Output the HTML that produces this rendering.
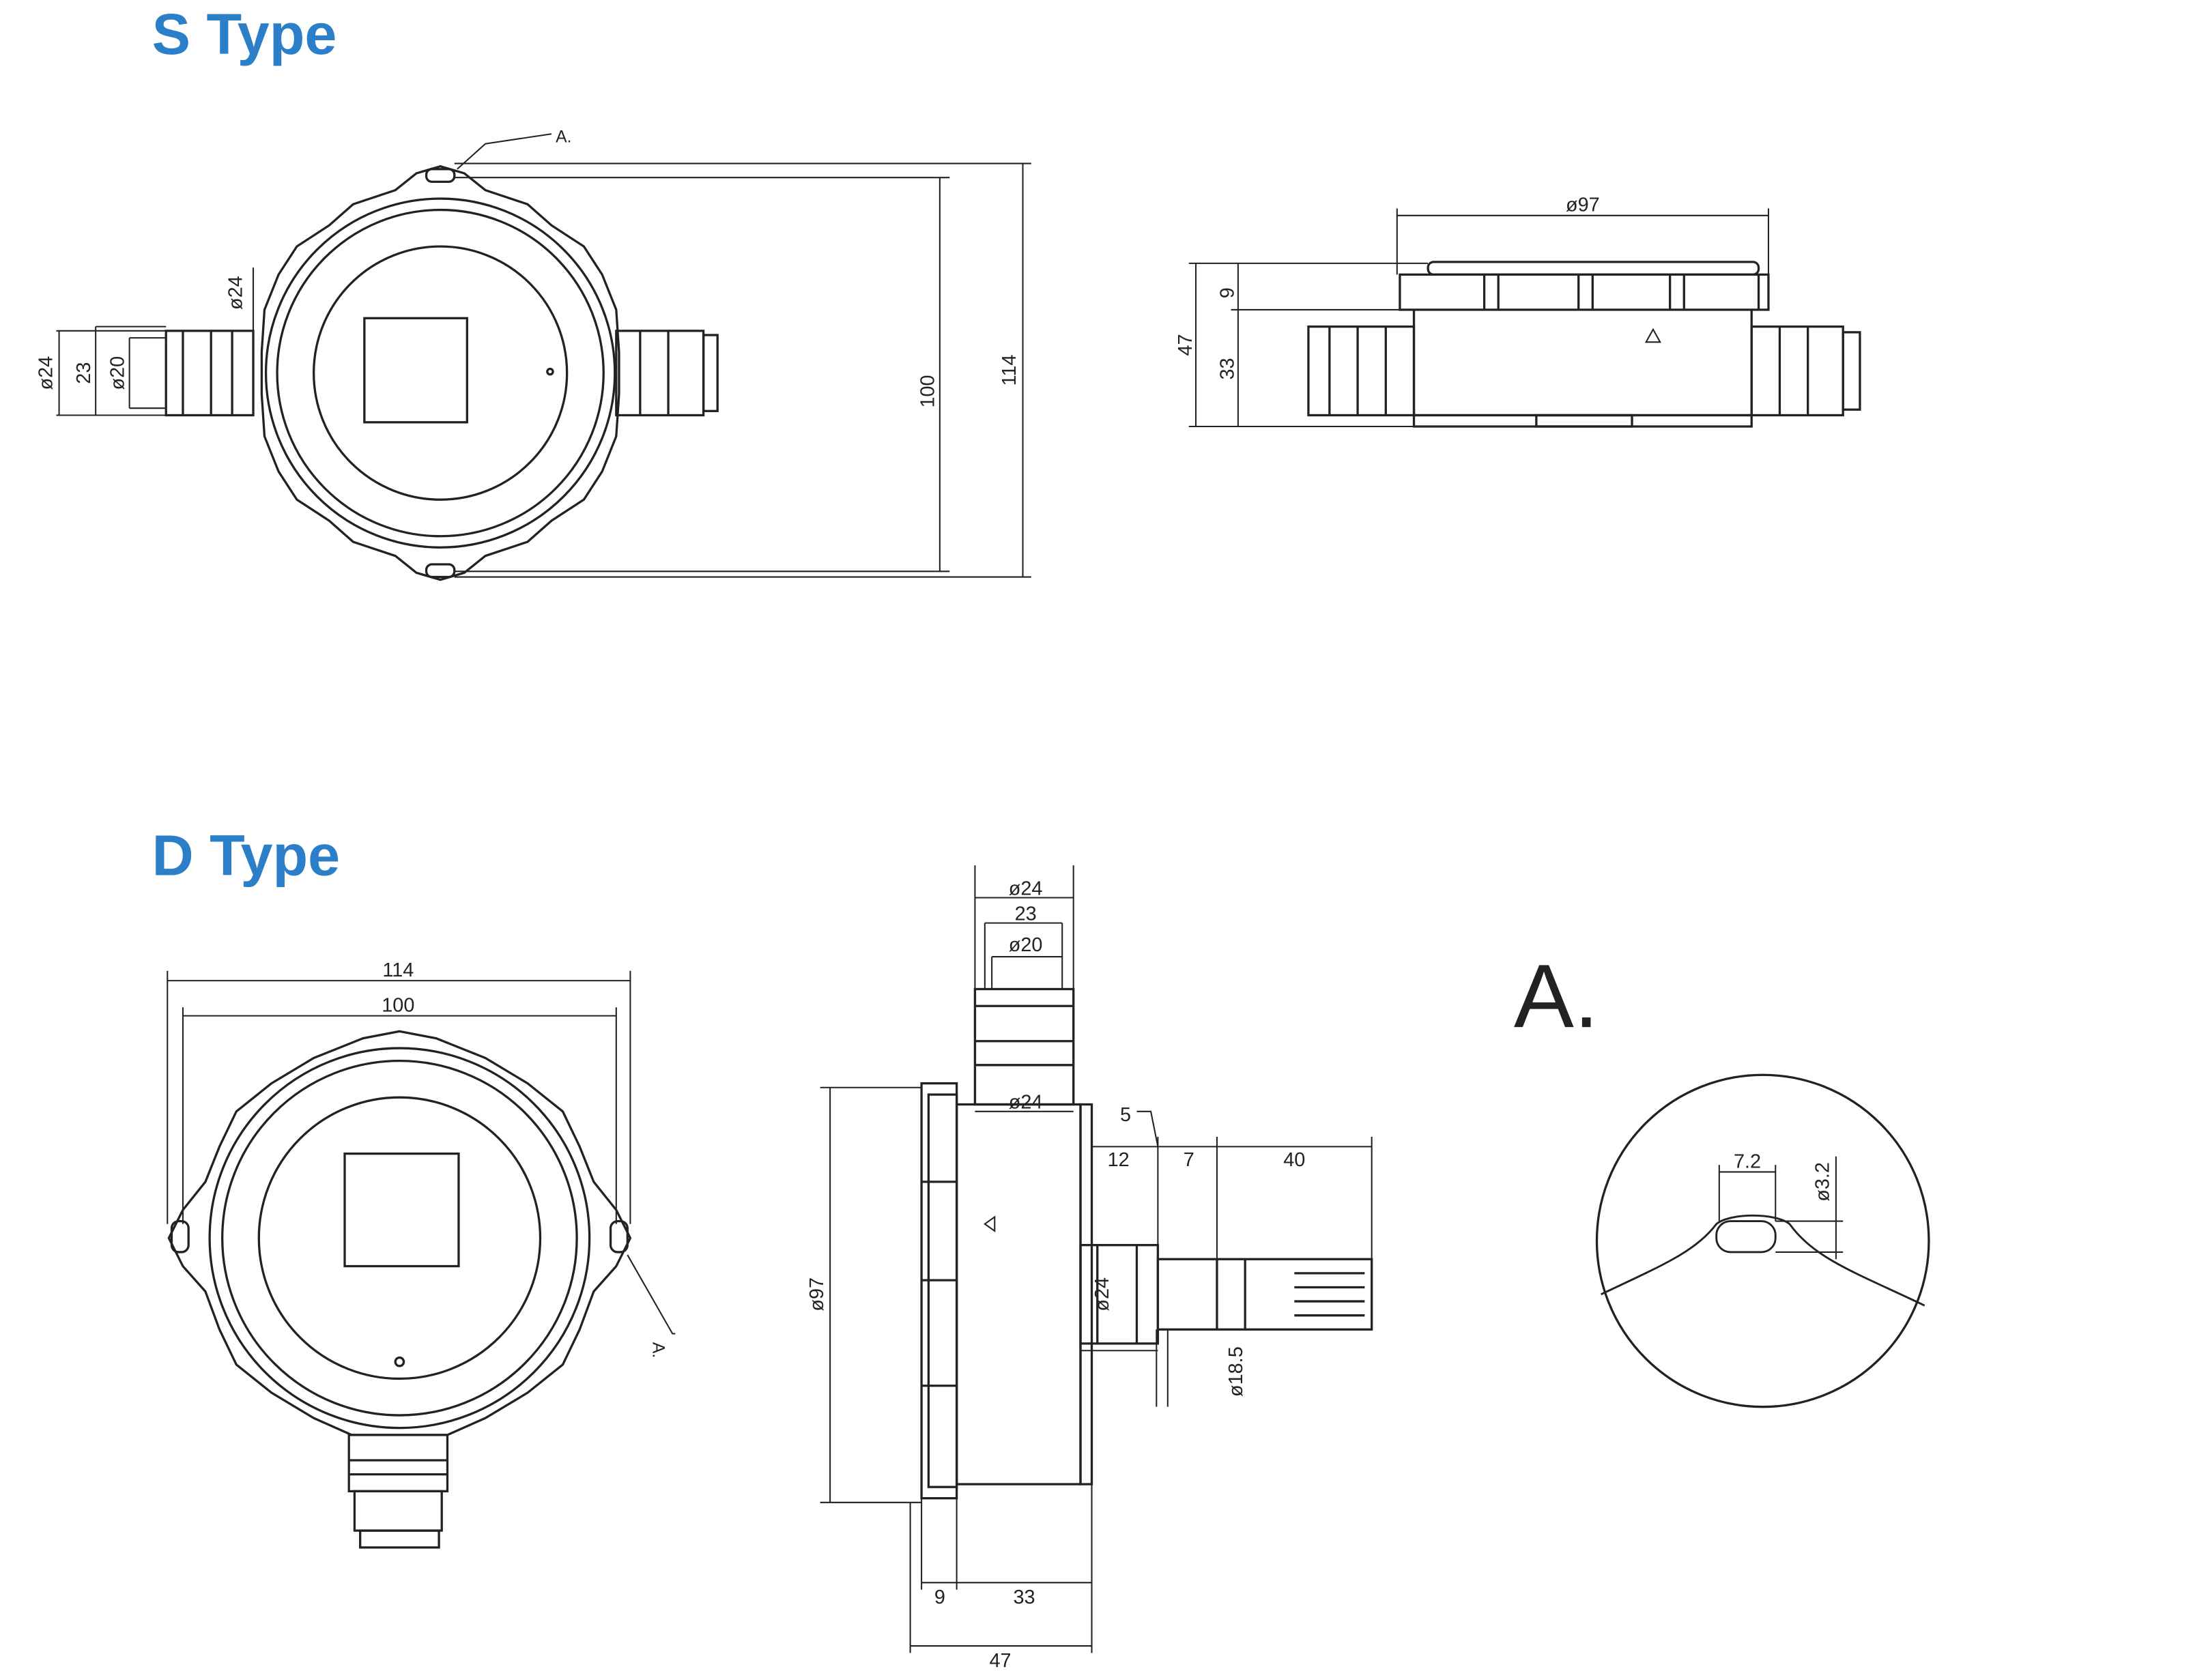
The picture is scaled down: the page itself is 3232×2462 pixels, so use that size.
<!DOCTYPE html>
<html><head><meta charset="utf-8"><style>
html,body{margin:0;padding:0;background:#fff;}
svg{display:block}
text{font-family:"Liberation Sans",sans-serif;fill:#222}
.t{font-weight:bold;fill:#2a7fc8;font-size:41px}
.d{font-size:14px}
</style></head><body>
<svg width="3232" height="2462" viewBox="0 0 1568 1194" xmlns="http://www.w3.org/2000/svg">
<g fill="none" stroke="#222" stroke-width="1.6">
<path d="M313 118 L330 123 L345 135 L375 145 L392 160 L415 175 L428 195 L438 220 L440 250 L440 280 L438 310 L428 335 L415 355 L392 370 L375 385 L345 395 L330 407 L313 412 L296 407 L281 395 L251 385 L234 370 L211 355 L198 335 L188 310 L186 280 L186 250 L188 220 L198 195 L211 175 L234 160 L251 145 L281 135 L296 123 Z"/>
<circle cx="313" cy="265" r="124"/>
<circle cx="313" cy="265" r="116"/>
<circle cx="313" cy="265" r="90"/>
<rect x="259" y="226" width="73" height="74"/>
<circle cx="391" cy="264" r="2"/>
<rect x="303" y="120" width="20" height="9" rx="4"/>
<rect x="303" y="401" width="20" height="9" rx="4"/>
<rect x="118" y="235" width="62" height="60"/>
<line x1="130" y1="235" x2="130" y2="295"/><line x1="150" y1="235" x2="150" y2="295"/><line x1="165" y1="235" x2="165" y2="295"/>
<rect x="438" y="235" width="62" height="60"/>
<line x1="455" y1="235" x2="455" y2="295"/><line x1="475" y1="235" x2="475" y2="295"/><rect x="500" y="238" width="10" height="54"/>
<g stroke-width="1">
<line x1="323" y1="126" x2="675" y2="126"/><line x1="323" y1="406" x2="675" y2="406"/>
<line x1="668" y1="126" x2="668" y2="406"/>
<line x1="323" y1="116" x2="733" y2="116"/><line x1="323" y1="410" x2="733" y2="410"/>
<line x1="727" y1="116" x2="727" y2="410"/>
<line x1="40" y1="235" x2="118" y2="235"/><line x1="40" y1="295" x2="118" y2="295"/>
<line x1="42" y1="235" x2="42" y2="295"/><line x1="68" y1="232" x2="68" y2="295"/><line x1="92" y1="240" x2="92" y2="290"/>
<line x1="68" y1="232" x2="118" y2="232"/><line x1="92" y1="240" x2="118" y2="240"/><line x1="92" y1="290" x2="118" y2="290"/>
<line x1="180" y1="190" x2="180" y2="295"/>
<polyline points="325,120 345,102 392,95"/>
</g>
<rect x="1015" y="186" width="235" height="9" rx="4"/>
<rect x="995" y="195" width="262" height="25"/>
<line x1="1055" y1="195" x2="1055" y2="220"/><line x1="1065" y1="195" x2="1065" y2="220"/><line x1="1122" y1="195" x2="1122" y2="220"/><line x1="1132" y1="195" x2="1132" y2="220"/><line x1="1187" y1="195" x2="1187" y2="220"/><line x1="1197" y1="195" x2="1197" y2="220"/><line x1="1250" y1="195" x2="1250" y2="220"/>
<path d="M1005 220 L1005 295 L1245 295 L1245 220"/>
<rect x="1005" y="295" width="240" height="8"/>
<rect x="1092" y="295" width="68" height="8"/>
<rect x="930" y="232" width="75" height="63"/>
<line x1="945" y1="232" x2="945" y2="295"/><line x1="965" y1="232" x2="965" y2="295"/><line x1="985" y1="232" x2="985" y2="295"/>
<rect x="1245" y="232" width="65" height="63"/>
<line x1="1265" y1="232" x2="1265" y2="295"/><line x1="1285" y1="232" x2="1285" y2="295"/><rect x="1310" y="236" width="12" height="55"/>
<g stroke-width="1">
<line x1="993" y1="153" x2="1257" y2="153"/><line x1="993" y1="148" x2="993" y2="195"/><line x1="1257" y1="148" x2="1257" y2="195"/>
<line x1="845" y1="187" x2="1015" y2="187"/><line x1="845" y1="303" x2="1005" y2="303"/>
<line x1="850" y1="187" x2="850" y2="303"/><line x1="880" y1="187" x2="880" y2="303"/>
<line x1="875" y1="220" x2="995" y2="220"/>
</g>
<path d="M1170 243 L1175 234 L1180 243 Z" stroke-width="1"/>
<path d="M284 733 L310 738 L345 752 L375 770 L400 790 L412 815 L422 840 L438 860 L448 880 L438 900 L422 918 L412 945 L400 970 L375 990 L345 1008 L318 1020 L250 1020 L223 1008 L193 990 L168 970 L156 945 L146 918 L130 900 L120 880 L130 860 L146 840 L156 815 L168 790 L193 770 L223 752 L258 738 Z"/>
<circle cx="284" cy="880" r="135"/>
<circle cx="284" cy="880" r="126"/>
<circle cx="284" cy="880" r="100"/>
<rect x="245" y="820" width="81" height="80"/>
<circle cx="284" cy="968" r="3"/>
<rect x="122" y="868" width="12" height="22" rx="5"/>
<rect x="434" y="868" width="12" height="22" rx="5"/>
<rect x="248" y="1020" width="70" height="40"/>
<line x1="248" y1="1038" x2="318" y2="1038"/><line x1="248" y1="1048" x2="318" y2="1048"/>
<rect x="252" y="1060" width="62" height="28"/>
<rect x="256" y="1088" width="56" height="12"/>
<g stroke-width="1">
<line x1="119" y1="697" x2="448" y2="697"/><line x1="119" y1="690" x2="119" y2="870"/><line x1="448" y1="690" x2="448" y2="870"/>
<line x1="130" y1="722" x2="438" y2="722"/><line x1="130" y1="716" x2="130" y2="870"/><line x1="438" y1="716" x2="438" y2="870"/>
<polyline points="446,892 478,948 480,948"/>
</g>
<rect x="655" y="770" width="25" height="295"/>
<rect x="660" y="778" width="20" height="279"/>
<line x1="655" y1="840" x2="680" y2="840"/><line x1="655" y1="910" x2="680" y2="910"/><line x1="655" y1="985" x2="680" y2="985"/>
<rect x="680" y="785" width="88" height="270"/>
<rect x="768" y="785" width="8" height="270"/>
<rect x="693" y="703" width="70" height="82"/>
<line x1="693" y1="715" x2="763" y2="715"/><line x1="693" y1="740" x2="763" y2="740"/><line x1="693" y1="757" x2="763" y2="757"/>
<rect x="768" y="885" width="55" height="70"/>
<line x1="780" y1="885" x2="780" y2="955"/><line x1="808" y1="885" x2="808" y2="955"/>
<rect x="823" y="895" width="152" height="50"/>
<line x1="865" y1="895" x2="865" y2="945"/><line x1="885" y1="895" x2="885" y2="945"/>
<line x1="920" y1="905" x2="970" y2="905"/><line x1="920" y1="915" x2="970" y2="915"/><line x1="920" y1="925" x2="970" y2="925"/><line x1="920" y1="935" x2="970" y2="935"/>
<path d="M700 870 L707 865 L707 875 Z" stroke-width="1"/>
<g stroke-width="1">
<line x1="693" y1="615" x2="693" y2="703"/><line x1="763" y1="615" x2="763" y2="703"/>
<line x1="693" y1="638" x2="763" y2="638"/><line x1="700" y1="656" x2="755" y2="656"/><line x1="700" y1="656" x2="700" y2="703"/><line x1="755" y1="656" x2="755" y2="703"/>
<line x1="705" y1="680" x2="755" y2="680"/><line x1="705" y1="680" x2="705" y2="703"/>
<line x1="693" y1="790" x2="763" y2="790"/>
<line x1="583" y1="773" x2="655" y2="773"/><line x1="583" y1="1068" x2="655" y2="1068"/><line x1="590" y1="773" x2="590" y2="1068"/>
<line x1="655" y1="1065" x2="655" y2="1130"/><line x1="680" y1="1055" x2="680" y2="1130"/><line x1="776" y1="1055" x2="776" y2="1175"/>
<line x1="655" y1="1125" x2="776" y2="1125"/>
<line x1="647" y1="1068" x2="647" y2="1175"/><line x1="647" y1="1170" x2="776" y2="1170"/>
<line x1="776" y1="815" x2="975" y2="815"/><line x1="823" y1="808" x2="823" y2="895"/><line x1="865" y1="808" x2="865" y2="895"/><line x1="975" y1="808" x2="975" y2="895"/>
<polyline points="808,790 818,790 823,815"/>
<line x1="768" y1="960" x2="823" y2="960"/>
<line x1="830" y1="945" x2="830" y2="1000"/><line x1="822" y1="945" x2="822" y2="1000"/>
</g>
<circle cx="1253" cy="882" r="118"/>
<path d="M1138 920 C1180 900 1205 890 1220 870 C1230 862 1262 862 1272 870 C1290 895 1320 905 1368 928" stroke-width="1.4"/>
<rect x="1220" y="868" width="42" height="22" rx="10" stroke-width="1.4"/>
<g stroke-width="1">
<line x1="1222" y1="833" x2="1262" y2="833"/><line x1="1222" y1="828" x2="1222" y2="868"/><line x1="1262" y1="828" x2="1262" y2="868"/>
<line x1="1262" y1="868" x2="1310" y2="868"/><line x1="1262" y1="890" x2="1310" y2="890"/><line x1="1305" y1="822" x2="1305" y2="895"/>
</g>
</g>
<text x="108" y="38" class="t">S Type</text>
<text x="108" y="622" class="t">D Type</text>
<text x="1076" y="730" style="font-size:64px">A.</text>
<text x="395" y="101" class="d" style="font-size:12px">A.</text>
<text x="470" y="968" class="d" style="font-size:12px" transform="rotate(90 474 958)">A.</text>
<g class="d">
<text transform="translate(664 278) rotate(-90)" text-anchor="middle">100</text>
<text transform="translate(722 263) rotate(-90)" text-anchor="middle">114</text>
<text transform="translate(37 265) rotate(-90)" text-anchor="middle">ø24</text>
<text transform="translate(64 265) rotate(-90)" text-anchor="middle">23</text>
<text transform="translate(88 265) rotate(-90)" text-anchor="middle">ø20</text>
<text transform="translate(172 208) rotate(-90)" text-anchor="middle">ø24</text>
<text x="1125" y="150" text-anchor="middle">ø97</text>
<text transform="translate(847 245) rotate(-90)" text-anchor="middle">47</text>
<text transform="translate(877 208) rotate(-90)" text-anchor="middle">9</text>
<text transform="translate(877 262) rotate(-90)" text-anchor="middle">33</text>
<text x="283" y="694" text-anchor="middle">114</text>
<text x="283" y="719" text-anchor="middle">100</text>
<text x="729" y="636" text-anchor="middle">ø24</text>
<text x="729" y="654" text-anchor="middle">23</text>
<text x="729" y="676" text-anchor="middle">ø20</text>
<text x="729" y="788" text-anchor="middle">ø24</text>
<text x="800" y="797" text-anchor="middle">5</text>
<text x="795" y="829" text-anchor="middle">12</text>
<text x="845" y="829" text-anchor="middle">7</text>
<text x="920" y="829" text-anchor="middle">40</text>
<text transform="translate(788 920) rotate(-90)" text-anchor="middle">ø24</text>
<text transform="translate(883 975) rotate(-90)" text-anchor="middle">ø18.5</text>
<text transform="translate(585 920) rotate(-90)" text-anchor="middle">ø97</text>
<text x="668" y="1140" text-anchor="middle">9</text>
<text x="728" y="1140" text-anchor="middle">33</text>
<text x="711" y="1185" text-anchor="middle">47</text>
<text x="1242" y="830" text-anchor="middle">7.2</text>
<text transform="translate(1300 840) rotate(-90)" text-anchor="middle">ø3.2</text>
</g>
</svg>
</body></html>
